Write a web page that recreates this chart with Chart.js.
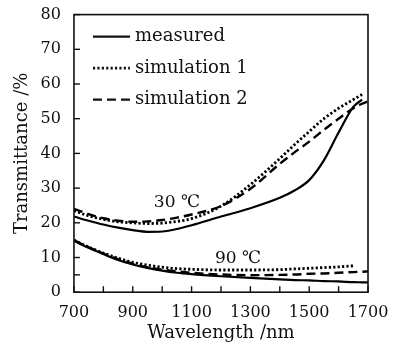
<!DOCTYPE html>
<html>
<head>
<meta charset="utf-8">
<script src="https://cdn.jsdelivr.net/npm/chart.js@4.4.0/dist/chart.umd.min.js"></script>
<style>
    html, body { margin: 0; padding: 0; background: #fff; }
    #wrap { width: 401px; height: 344px; }
</style>
</head>
<body>
<div id="wrap"><canvas id="transChart" width="401" height="344"></canvas></div>
<script>
// Wavelength (nm) and transmittance (%)
const wavelengths = [700, 750, 800, 850, 900, 950, 1000, 1050, 1100, 1200, 1300, 1400, 1450, 1500, 1550, 1600, 1650, 1680, 1700];

const measured30 = [21.8, 20.6, 19.5, 18.6, 17.9, 17.4, 17.5, 18.2, 19.3, 21.8, 24.2, 27.2, 29.3, 32.3, 38.0, 46.0, 53.4, 55.5, null];
const sim1_30    = [23.5, 22.0, 21.0, 20.3, 20.0, 19.8, 19.9, 20.4, 21.2, 24.8, 31.0, 38.5, 42.5, 46.3, 50.0, 53.0, 55.5, 57.0, null];
const sim2_30    = [24.0, 22.5, 21.3, 20.6, 20.3, 20.4, 20.8, 21.5, 22.4, 24.8, 29.8, 37.0, 40.3, 43.4, 46.8, 50.0, 53.0, 54.3, 55.0];

const measured90 = [14.8, 12.8, 11.0, 9.3, 8.0, 7.0, 6.2, 5.6, 5.2, 4.6, 4.1, 3.7, 3.5, 3.4, 3.2, 3.1, 2.9, 2.85, 2.8];
const sim1_90    = [15.0, 13.0, 11.3, 9.8, 8.6, 7.8, 7.2, 6.8, 6.6, 6.4, 6.4, 6.5, 6.7, 6.9, 7.1, 7.3, 7.6, null, null];
const sim2_90    = [15.0, 12.9, 11.1, 9.5, 8.2, 7.2, 6.5, 6.0, 5.6, 5.1, 4.9, 5.0, 5.1, 5.3, 5.4, 5.6, 5.8, 5.9, 6.0];

const xTicks = [700, 800, 900, 1000, 1100, 1200, 1300, 1400, 1500, 1600, 1700];
const yTicks = [0, 5, 10, 20, 30, 40, 50, 60, 70, 80];

const legendLabels = ['measured', 'simulation 1', 'simulation 2'];
const tempLabels = [
    { text: '30 \u2103', x: 1050, y: 25.8 },
    { text: '90 \u2103', x: 1258, y: 9.6 }
];

const FONT = '"DejaVu Serif", serif';

const styles = [
    { borderDash: [], borderWidth: 2.2 },
    { borderDash: [2.2, 2.2], borderWidth: 2.8 },
    { borderDash: [9, 5], borderWidth: 2.4 }
];

function pts(values) {
    return wavelengths.map((w, i) => ({ x: w, y: values[i] }));
}

function makeSet(label, values, style) {
    return {
        label: label,
        data: pts(values),
        borderColor: '#000',
        backgroundColor: '#000',
        borderWidth: style.borderWidth,
        borderDash: style.borderDash,
        pointRadius: 0,
        cubicInterpolationMode: 'monotone',
        spanGaps: false,
        fill: false
    };
}

// frame, inward ticks, in-plot legend and temperature labels
const framePlugin = {
    id: 'frame',
    afterDatasetsDraw(chart) {
        const ctx = chart.ctx;
        const a = chart.chartArea;
        const xs = chart.scales.x;
        const ys = chart.scales.y;
        ctx.save();
        ctx.strokeStyle = '#111';
        ctx.lineWidth = 1.6;
        ctx.setLineDash([]);
        ctx.strokeRect(a.left, a.top, a.right - a.left, a.bottom - a.top);

        ctx.lineWidth = 1.4;
        xTicks.forEach(v => {
            const px = xs.getPixelForValue(v);
            ctx.beginPath();
            ctx.moveTo(px, a.bottom);
            ctx.lineTo(px, a.bottom - 6);
            ctx.stroke();
        });
        yTicks.forEach(v => {
            const py = ys.getPixelForValue(v);
            ctx.beginPath();
            ctx.moveTo(a.left, py);
            ctx.lineTo(a.left + 6, py);
            ctx.stroke();
        });

        // legend
        ctx.font = '18px ' + FONT;
        ctx.fillStyle = '#111';
        ctx.textBaseline = 'middle';
        ctx.textAlign = 'left';
        legendLabels.forEach((lab, i) => {
            const y = a.top + 22 + i * 31.5;
            const st = styles[i];
            ctx.lineWidth = st.borderWidth;
            ctx.setLineDash(st.borderDash);
            ctx.beginPath();
            ctx.moveTo(a.left + 19, y);
            ctx.lineTo(a.left + 56, y);
            ctx.stroke();
            ctx.setLineDash([]);
            ctx.fillText(lab, a.left + 61, y);
        });

        ctx.font = '17px ' + FONT;
        ctx.textAlign = 'center';
        tempLabels.forEach(t => {
            ctx.fillText(t.text, xs.getPixelForValue(t.x), ys.getPixelForValue(t.y));
        });
        ctx.restore();
    }
};

document.addEventListener('DOMContentLoaded', function() {
    const canvas = document.getElementById('transChart');
    new Chart(canvas, {
        type: 'line',
        data: {
            datasets: [
                makeSet('measured 30', measured30, styles[0]),
                makeSet('simulation 1 30', sim1_30, styles[1]),
                makeSet('simulation 2 30', sim2_30, styles[2]),
                makeSet('measured 90', measured90, styles[0]),
                makeSet('simulation 1 90', sim1_90, styles[1]),
                makeSet('simulation 2 90', sim2_90, styles[2])
            ]
        },
        options: {
            responsive: false,
            animation: false,
            layout: { padding: { top: 8, right: 33, left: 12, bottom: 0 } },
            plugins: {
                legend: { display: false },
                tooltip: { enabled: false }
            },
            scales: {
                x: {
                    type: 'linear',
                    min: 700,
                    max: 1700,
                    grid: { display: false },
                    border: { display: false },
                    afterBuildTicks: function(scale) {
                        scale.ticks = xTicks.filter(v => (v - 700) % 200 === 0).map(v => ({ value: v }));
                    },
                    ticks: {
                        color: '#111',
                        font: { family: FONT, size: 16 },
                        padding: 3,
                        maxRotation: 0,
                        autoSkip: false,
                        callback: function(value) {
                            return String(value);
                        }
                    },
                    title: {
                        display: true,
                        text: 'Wavelength /nm',
                        color: '#111',
                        font: { family: FONT, size: 18 },
                        padding: { top: -3, bottom: 0 }
                    }
                },
                y: {
                    min: 0,
                    max: 80,
                    grid: { display: false },
                    border: { display: false },
                    afterBuildTicks: function(scale) {
                        scale.ticks = yTicks.filter(v => v % 10 === 0).map(v => ({ value: v }));
                    },
                    ticks: {
                        color: '#111',
                        font: { family: FONT, size: 16 },
                        padding: 5,
                        autoSkip: false,
                        callback: function(value) {
                            return String(value);
                        }
                    },
                    title: {
                        display: true,
                        text: 'Transmittance /%',
                        color: '#111',
                        font: { family: FONT, size: 18 },
                        padding: { top: 0, bottom: 2 }
                    }
                }
            }
        },
        plugins: [framePlugin]
    });
});
</script>
</body>
</html>
